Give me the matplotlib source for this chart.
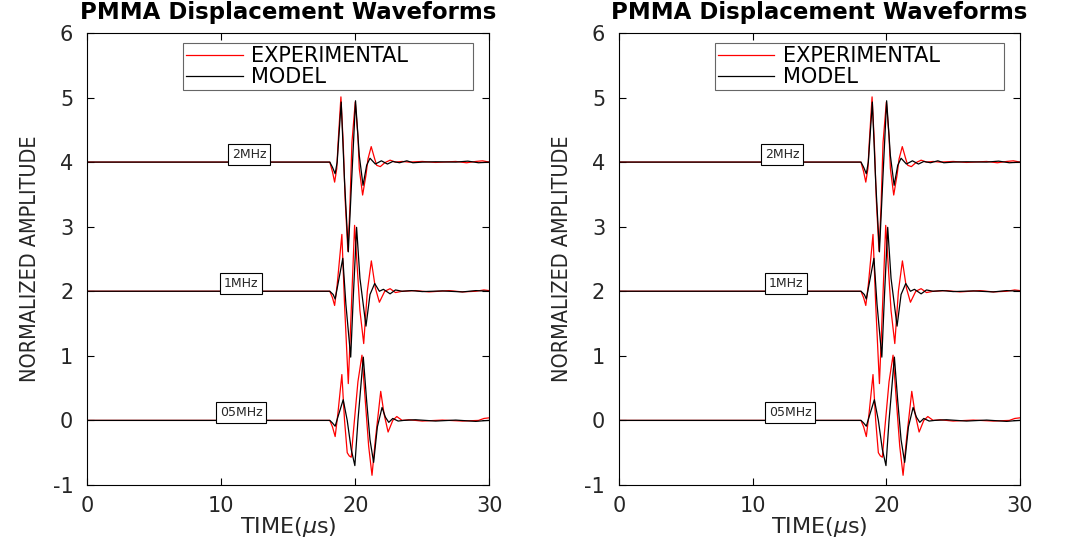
import matplotlib
matplotlib.use('Agg')
import matplotlib.pyplot as plt

plt.rcParams['font.family'] = ['DejaVu Sans']

# baselines of the three traces
offsets = [4, 2, 0]
labels = ['2MHz', '1MHz', '05MHz']
label_t = [[12.1, 11.5, 11.5], [12.2, 12.5, 12.8]]

# 2 MHz
t_exp_2 = [0, 18.1, 18.3, 18.46, 18.62, 18.72, 18.93, 19.1, 19.25, 19.45, 19.6, 19.75, 20.0,
           20.2, 20.3, 20.55, 20.8, 20.95, 21.19, 21.45, 21.6, 21.87, 22.2, 22.6, 23.0, 23.5,
           24.0, 25.0, 26.0, 27.5, 28.3, 29.0, 29.5, 30]
v_exp_2 = [0, 0, -0.15, -0.31, -0.1, 0.3, 1.01, 0.3, -0.6, -1.38, -0.7, 0.3, 0.93,
           0.4, -0.1, -0.51, -0.2, 0.05, 0.24, 0.05, -0.05, -0.07, -0.01, 0.03, 0.0, 0.01,
           0.0, 0.01, -0.005, 0.01, -0.01, 0.01, 0.02, 0.0]
t_mod_2 = [0, 18.1, 18.3, 18.5, 18.65, 18.95, 19.2, 19.48, 19.75, 20.02, 20.3, 20.58, 20.85,
           21.1, 21.5, 21.95, 22.4, 22.8, 23.3, 23.85, 24.3, 25, 26, 27.5, 28.4, 29.2, 30]
v_mod_2 = [0, 0, -0.08, -0.18, 0.0, 0.93, -0.3, -1.39, -0.2, 0.95, 0.1, -0.36, -0.05,
           0.06, -0.03, 0.02, -0.03, 0.01, -0.01, 0.02, -0.01, 0.0, 0.005, 0.0, 0.015, -0.01, 0]

# 1 MHz
t_exp_1 = [0, 18.1, 18.3, 18.46, 18.65, 19.0, 19.2, 19.48, 19.7, 19.95, 20.2, 20.35, 20.63,
           20.9, 21.2, 21.5, 21.8, 22.2, 22.6, 23.0, 23.5, 24.5, 25.5, 27.0, 28.0, 29.0, 29.6, 30]
v_exp_1 = [0, 0, -0.1, -0.22, 0.1, 0.88, -0.2, -1.43, -0.3, 1.02, 0.2, -0.3, -0.81,
           0.0, 0.47, 0.05, -0.17, 0.0, 0.04, -0.02, 0.0, 0.01, -0.01, 0.01, -0.01, 0.0, 0.02, 0.01]
t_mod_1 = [0, 18.1, 18.35, 18.5, 18.7, 19.07, 19.3, 19.66, 19.85, 20.1, 20.35, 20.8, 21.1,
           21.45, 21.8, 22.1, 22.6, 23.0, 23.5, 24.2, 25.0, 26.5, 28.0, 29.0, 30]
v_mod_1 = [0, 0, -0.05, -0.12, 0.1, 0.51, -0.2, -1.02, -0.1, 0.99, 0.2, -0.54, -0.05,
           0.12, 0.0, 0.03, -0.04, 0.02, 0.0, 0.01, -0.005, 0.005, -0.01, 0.01, 0.0]

# 0.5 MHz
t_exp_05 = [0, 18.1, 18.3, 18.5, 18.7, 19.0, 19.2, 19.4, 19.55, 19.7, 19.85, 20.2, 20.5,
            20.75, 21.0, 21.25, 21.5, 21.9, 22.15, 22.45, 22.8, 23.1, 23.5, 24.0, 25.0, 26.5,
            28.0, 29.2, 29.6, 30]
v_exp_05 = [0, 0, -0.1, -0.25, 0.1, 0.71, 0.0, -0.5, -0.55, -0.57, -0.2, 0.6, 1.01,
            0.3, -0.4, -0.85, -0.3, 0.45, 0.1, -0.18, 0.0, 0.06, 0.0, 0.01, -0.01, 0.005,
            -0.01, 0.0, 0.03, 0.04]
t_mod_05 = [0, 18.1, 18.3, 18.5, 18.7, 19.1, 19.4, 19.7, 19.97, 20.2, 20.6, 20.85, 21.1,
            21.37, 21.65, 22.0, 22.25, 22.5, 22.8, 23.2, 23.6, 24.5, 26.0, 27.5, 29.0, 29.6, 30]
v_mod_05 = [0, 0, -0.04, -0.09, 0.05, 0.32, 0.0, -0.45, -0.70, 0.0, 0.98, 0.3, -0.3,
            -0.65, -0.1, 0.20, 0.05, -0.03, 0.03, -0.01, 0.0, 0.01, -0.01, 0.005, -0.015, -0.005, 0.0]

exp_t = [t_exp_2, t_exp_1, t_exp_05]
exp_v = [v_exp_2, v_exp_1, v_exp_05]
mod_t = [t_mod_2, t_mod_1, t_mod_05]
mod_v = [v_mod_2, v_mod_1, v_mod_05]

fig = plt.figure(figsize=(10.76, 5.42), dpi=100, facecolor='w')
ax_pos = [[0.0811, 0.1052, 0.3736, 0.834], [0.5753, 0.1052, 0.3727, 0.834]]

for p in range(2):
    ax = fig.add_axes(ax_pos[p])
    for i in range(3):
        te = exp_t[i]
        ve = [v + offsets[i] for v in exp_v[i]]
        tm = mod_t[i]
        vm = [v + offsets[i] for v in mod_v[i]]
        ax.plot(te, ve, color='red', lw=0.9, label='EXPERIMENTAL' if i == 0 else None)
        ax.plot(tm, vm, color='black', lw=0.9, label='MODEL' if i == 0 else None)
        ax.text(label_t[p][i], offsets[i] + 0.12, labels[i], fontsize=9, ha='center', va='center',
                color='#262626',
                bbox=dict(boxstyle='square,pad=0.3', fc='white', ec='black', lw=0.8))
    ax.set_xlim(0, 30)
    ax.set_ylim(-1, 6)
    ax.set_xticks([0, 10, 20, 30])
    ax.set_yticks(range(-1, 7))
    ax.set_yticklabels([str(v) for v in range(-1, 7)])
    ax.tick_params(direction='in', top=True, right=True, labelsize=15, length=5, width=0.8,
                   labelcolor='#262626')
    ax.tick_params(axis='y', pad=10)
    ax.tick_params(axis='x', pad=8)
    for s in ax.spines.values():
        s.set_linewidth(0.8)
    ax.set_xlabel('TIME($\\mu$s)', fontsize=16, labelpad=-1, color='#262626')
    ax.set_ylabel('NORMALIZED AMPLITUDE', fontsize=15.5, labelpad=9, color='#262626',
                  family=['Liberation Sans Narrow', 'DejaVu Sans'], fontstretch='condensed')
    ax.set_title('PMMA Displacement Waveforms', fontsize=16.5, fontweight='bold', pad=10)
    leg = ax.legend(loc='upper left', fontsize=15, handlelength=2.7, frameon=True, fancybox=False,
                    borderpad=0.15, labelspacing=0.05, handletextpad=0.4, borderaxespad=0,
                    mode='expand', bbox_to_anchor=(0.239, 0.874, 0.721, 0.104))
    leg.get_frame().set_edgecolor('#404040')
    leg.get_frame().set_linewidth(0.8)

fig.savefig('out.png', dpi=100)
